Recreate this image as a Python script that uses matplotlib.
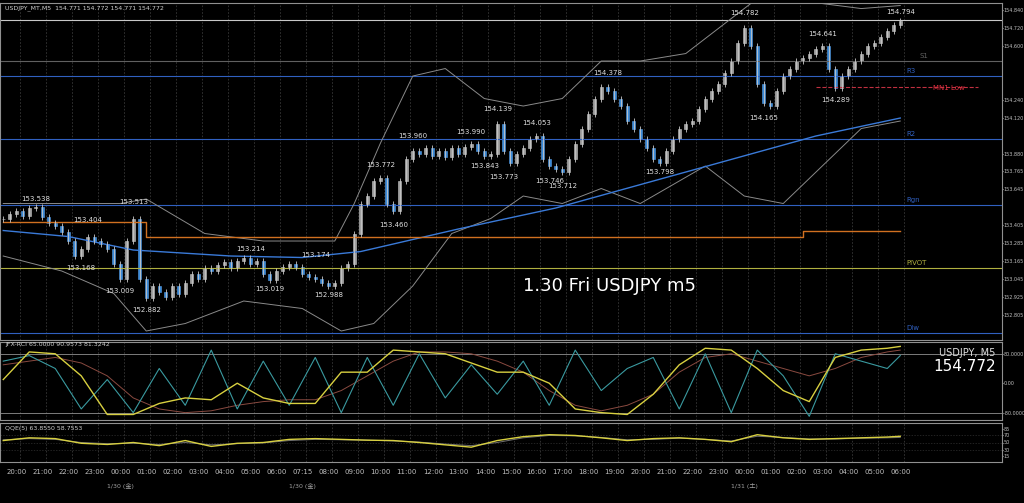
import matplotlib
matplotlib.use("Agg")
import matplotlib.pyplot as plt
import numpy as np

plt.rcParams['font.family'] = ['DejaVu Sans', 'Noto Sans CJK JP']

# 15-minute closes (index 0 .. 138)
closes = [153.45, 153.48, 153.50, 153.47, 153.52, 153.53, 153.46, 153.42, 153.40, 153.36,
          153.30, 153.20, 153.25, 153.33, 153.30, 153.28, 153.25, 153.15, 153.05, 153.30,
          153.45, 153.05, 152.92, 153.00, 152.96, 152.93, 153.00, 152.95, 153.02, 153.08,
          153.05, 153.12, 153.10, 153.14, 153.16, 153.12, 153.17, 153.19, 153.15, 153.17,
          153.08, 153.04, 153.10, 153.13, 153.15, 153.13, 153.08, 153.06, 153.05, 153.02,
          153.00, 153.02, 153.12, 153.15, 153.35, 153.55, 153.60, 153.70, 153.72, 153.55,
          153.50, 153.70, 153.85, 153.90, 153.88, 153.92, 153.87, 153.90, 153.86, 153.92,
          153.88, 153.93, 153.95, 153.90, 153.87, 153.88, 154.08, 153.90, 153.82, 153.88,
          153.92, 153.98, 154.00, 153.85, 153.80, 153.78, 153.76, 153.85, 153.95, 154.05,
          154.15, 154.25, 154.33, 154.30, 154.25, 154.20, 154.10, 154.05, 153.98, 153.92,
          153.85, 153.82, 153.90, 153.98, 154.05, 154.08, 154.10, 154.18, 154.25, 154.30,
          154.35, 154.42, 154.50, 154.62, 154.72, 154.60, 154.35, 154.22, 154.20, 154.30,
          154.40, 154.45, 154.50, 154.52, 154.55, 154.58, 154.60, 154.45, 154.32, 154.40,
          154.45, 154.50, 154.55, 154.60, 154.62, 154.66, 154.70, 154.74, 154.77]

# bollinger-like envelopes (index, price)
bb_up_x = [0, 9, 18, 22, 31, 40, 51, 54, 58, 63, 68, 74, 80, 86, 92, 98, 105, 111, 117, 123, 132, 138]
bb_up_y = [153.55, 153.55, 153.55, 153.58, 153.35, 153.30, 153.30, 153.55, 153.95, 154.40, 154.45,
           154.25, 154.20, 154.25, 154.50, 154.50, 154.55, 154.75, 154.95, 154.90, 154.85, 154.87]
bb_lo_x = [0, 9, 17, 22, 28, 37, 46, 52, 57, 63, 69, 75, 80, 86, 92, 98, 108, 114, 120, 126, 132, 138]
bb_lo_y = [153.20, 153.10, 152.95, 152.70, 152.75, 152.90, 152.85, 152.70, 152.75, 153.00, 153.35,
           153.45, 153.60, 153.55, 153.65, 153.55, 153.80, 153.60, 153.55, 153.80, 154.05, 154.10]
ma_x = [0, 10, 20, 35, 46, 55, 70, 85, 100, 115, 125, 138]
ma_y = [153.37, 153.33, 153.24, 153.20, 153.19, 153.23, 153.38, 153.52, 153.70, 153.88, 154.00, 154.12]
orange_x = [0, 22, 22, 123, 123, 138]
orange_y = [153.43, 153.43, 153.33, 153.33, 153.37, 153.37]

highs = [("153.538", 5, 153.56), ("153.404", 13, 153.42), ("153.513", 20, 153.54), ("153.214", 38, 153.23),
         ("153.174", 48, 153.19), ("153.772", 58, 153.79), ("153.960", 63, 153.98), ("153.990", 72, 154.01),
         ("154.139", 76, 154.16), ("154.053", 82, 154.07), ("154.378", 93, 154.40), ("154.782", 114, 154.80),
         ("154.641", 126, 154.66), ("154.794", 138, 154.81)]
lows = [("153.168", 12, 153.14), ("153.009", 18, 152.99), ("152.882", 22, 152.86), ("153.019", 41, 153.00),
        ("152.988", 50, 152.96), ("153.460", 60, 153.43), ("153.843", 74, 153.82), ("153.773", 77, 153.75),
        ("153.746", 84, 153.72), ("153.712", 86, 153.69), ("153.798", 101, 153.78), ("154.165", 117, 154.14),
        ("154.289", 128, 154.26)]

# pivot lines: price, colour, label, label index
levels = [(154.772, '#c8c8c8', '', 0), (154.50, '#606060', 'S1', 141), (154.40, '#3060c0', 'R3', 139),
          (153.98, '#3060c0', 'R2', 139), (153.54, '#3060c0', 'Rgn', 139), (153.117, '#b0b040', 'PIVOT', 139),
          (152.685, '#3060c0', 'Dlw', 139)]

rci_x = [0, 4, 8, 12, 16, 20, 24, 28, 32, 36, 40, 44, 48, 52, 56, 60, 64, 68, 72, 76, 80, 84, 88, 92, 96,
         100, 104, 108, 112, 116, 120, 124, 128, 132, 136, 138]
rci_fast = [60, 75, 40, -70, 10, -80, 40, -60, 90, -70, 60, -60, 70, -80, 70, -60, 80, -40, 50, -30,
            60, -60, 90, -20, 40, 70, -70, 80, -80, 90, 20, -90, 80, 60, 40, 75]
rci_mid = [10, 85, 80, 20, -85, -85, -55, -40, -45, 0, -40, -55, -55, 30, 30, 90, 85, 80, 55, 30,
           30, 0, -70, -80, -85, -30, 50, 95, 90, 40, -20, -50, 70, 90, 95, 100]
rci_slow = [50, 60, 70, 55, 20, -40, -70, -80, -75, -60, -50, -45, -45, -20, 20, 60, 85, 85, 80, 60,
            30, -20, -60, -75, -60, -30, 30, 70, 80, 60, 40, 20, 40, 70, 85, 90]

qqe_x = [0, 4, 8, 12, 16, 20, 24, 28, 32, 36, 40, 44, 48, 52, 56, 60, 64, 68, 72, 76, 80, 84, 88, 92,
         96, 100, 104, 108, 112, 116, 120, 124, 128, 132, 136, 138]
qqe_a = [55, 62, 60, 48, 45, 50, 42, 55, 40, 48, 50, 58, 60, 58, 56, 55, 50, 44, 38, 55, 65, 70,
         68, 62, 55, 60, 62, 58, 52, 70, 62, 58, 60, 62, 64, 66]
qqe_b = [57, 60, 58, 50, 47, 48, 45, 50, 44, 47, 49, 55, 58, 57, 56, 54, 51, 46, 42, 50, 62, 68,
         67, 63, 57, 58, 61, 58, 54, 66, 63, 59, 59, 61, 62, 63]

hour_labels = ["20:00", "21:00", "22:00", "23:00", "00:00", "01:00", "02:00", "03:00", "04:00", "05:00",
               "06:00", "07:15", "08:00", "09:00", "10:00", "11:00", "12:00", "13:00", "14:00", "15:00",
               "16:00", "17:00", "18:00", "19:00", "20:00", "21:00", "22:00", "23:00", "00:00", "01:00",
               "02:00", "03:00", "04:00", "05:00", "06:00"]
date_labels = [(4, "1/30 (金)"), (11, "1/30 (金)"), (28, "1/31 (土)")]

W, H = 1024, 503
RIGHT = 1002
fig = plt.figure(figsize=(W / 100, H / 100), dpi=100, facecolor='black')
XR = RIGHT / 6.5

def panel(top, bot):
    ax = fig.add_axes([0, 1 - bot / H, RIGHT / W, (bot - top) / H], facecolor='black')
    ax.set_xlim(-0.5, XR - 0.5)
    for s in ax.spines.values():
        s.set_color('#909090')
        s.set_linewidth(0.8)
    ax.tick_params(axis='y', right=True, left=False, labelright=True, labelleft=False,
                   colors='#c0c0c0', labelsize=3.5, length=1, pad=0.3)
    ax.tick_params(axis='x', bottom=False, labelbottom=False)
    xt = [2.6 + 4 * k for k in range(len(hour_labels))]
    for x in xt:
        ax.axvline(x, color='#383838', lw=0.6, ls=(0, (2, 2)))
    return ax, xt

# main price panel
ax, xt = panel(3, 340)
ax.set_ylim(152.64, 154.887)
ax.set_yticks([154.840, 154.720, 154.600, 154.240, 154.120, 153.880, 153.765, 153.645,
               153.405, 153.285, 153.165, 153.045, 152.925, 152.805])
ax.yaxis.set_major_formatter(matplotlib.ticker.FormatStrFormatter('%.3f'))
for p, c, lab, li in levels:
    ax.axhline(p, color=c, lw=0.8)
    if lab:
        ax.text(li, p + 0.02, lab, color=c, fontsize=5)
ax.plot([125, 150], [154.33, 154.33], color='#c03040', lw=0.8, ls='--')
ax.text(143, 154.305, "MN1 Low", color='#e03040', fontsize=5)
ax.plot(bb_up_x, bb_up_y, color='#8a8a8a', lw=0.7)
ax.plot(bb_lo_x, bb_lo_y, color='#8a8a8a', lw=0.7)
ax.plot(ma_x, ma_y, color='#3a7ad8', lw=1.0)
ax.plot(orange_x, orange_y, color='#d07020', lw=1.0)
c = np.array(closes)
o = np.r_[c[0], c[:-1]]
idx = np.arange(len(c))
hi = np.maximum(o, c) + 0.02
lo = np.minimum(o, c) - 0.02
ax.vlines(idx, lo, hi, color='#c8c8c8', lw=0.6)
up = c >= o
ax.bar(idx[up], (c - o)[up], bottom=o[up], width=0.45, color='#a0a0a0', edgecolor='#c8c8c8', lw=0.4)
ax.bar(idx[~up], (c - o)[~up], bottom=o[~up], width=0.45, color='#3a8ad8', edgecolor='#5aa0e8', lw=0.4)
for t, x, p in highs + lows:
    ax.text(x, p, t, color='#e0e0e0', fontsize=5, ha='center', va='bottom' if (t, x, p) in highs else 'top')
ax.text(80, 152.97, "1.30 Fri USDJPY m5", color='white', fontsize=13, ha='left')
ax.text(0.3, 154.845, "USDJPY_MT,M5  154.771 154.772 154.771 154.772", color='#d0d0d0', fontsize=4.5)

# RCI panel
ax2, _ = panel(342, 420)
ax2.set_ylim(-100, 112)
ax2.set_yticks([80, 0, -80])
ax2.set_yticklabels(["80.0000", "0.00", "-80.0000"])
ax2.axhline(80, color='#909090', lw=0.6)
ax2.axhline(-80, color='#909090', lw=0.6)
ax2.plot(rci_x, rci_slow, color='#8a4a40', lw=0.7)
ax2.plot(rci_x, rci_fast, color='#3a9aa0', lw=0.8)
ax2.plot(rci_x, rci_mid, color='#d8d040', lw=1.0)
ax2.text(0.3, 100, "JFX-RCI 65.0000 90.9573 81.3242", color='#d0d0d0', fontsize=4.5)
ax2.text(XR - 1.5, 95, "USDJPY, M5", color='#e0e0e0', fontsize=7, ha='right', va='top')
ax2.text(XR - 1.5, 65, "154.772", color='white', fontsize=11, ha='right', va='top')

# QQE panel
ax3, xt = panel(423, 462)
ax3.set_ylim(0, 100)
ax3.set_yticks([85, 70, 50, 30, 15])
for v in [70, 50, 30]:
    ax3.axhline(v, color='#303030', lw=0.5, ls=(0, (2, 2)))
ax3.plot(qqe_x, qqe_b, color='#707070', lw=0.7)
ax3.plot(qqe_x, qqe_a, color='#d8d040', lw=1.0)
ax3.text(0.3, 82, "QQE(5) 63.8550 58.7553", color='#d0d0d0', fontsize=4.5)

for x, lab in zip(xt, hour_labels):
    fig.text(x * 6.5 / W, 1 - 474 / H, lab, color='#c0c0c0', fontsize=5, ha='center')
for k, lab in date_labels:
    fig.text(xt[k] * 6.5 / W, 1 - 488 / H, lab, color='#a0a0a0', fontsize=4.5, ha='center',
             family=['DejaVu Sans', 'Noto Sans CJK JP'])

fig.savefig("out.png", dpi=100, facecolor='black')
